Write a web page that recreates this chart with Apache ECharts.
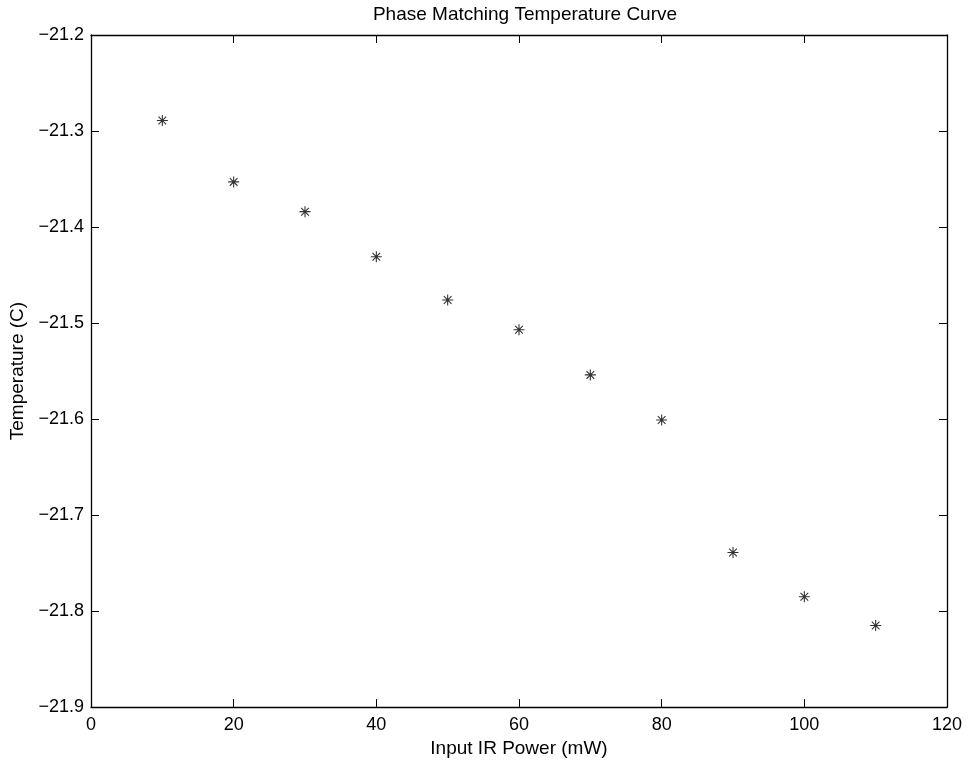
<!DOCTYPE html>
<html><head><meta charset="utf-8">
<script src="https://cdn.jsdelivr.net/npm/echarts@6/dist/echarts.min.js"></script>
<style>html,body{margin:0;padding:0;background:#fff}#c{width:968px;height:763px}</style>
</head><body><div id="c"></div>
<script>
const power = [10, 20, 30, 40, 50, 60, 70, 80, 90, 100, 110];
const temperature = [-21.289, -21.353, -21.384, -21.431, -21.476, -21.507, -21.554, -21.601, -21.739, -21.785, -21.815];
const titleText = 'Phase Matching Temperature Curve';
const xName = 'Input IR Power (mW)';
const yName = 'Temperature (C)';

const font = 'Liberation Sans, Arial, Helvetica, sans-serif';
const fs = 18;
const fsName = 19;
const star = 'path://M0 5L10 5M5 0L5 10M1.5 1.5L8.5 8.5M1.5 8.5L8.5 1.5';
const fmtY = v => (v < 0 ? '\u2212' : '') + Math.abs(v).toFixed(1);
const baseTick = {show: true, inside: true, length: 8, lineStyle: {color: '#000', width: 1}};
const line = {show: true, onZero: false, lineStyle: {color: '#000', width: 1.3}};

const chart = echarts.init(document.getElementById('c'), null, {renderer: 'canvas'});
chart.setOption({
  animation: false,
  backgroundColor: '#fff',
  title: {text: titleText, left: 520, top: 0, textAlign: 'center',
    textStyle: {fontFamily: font, fontSize: fsName, fontWeight: 'normal', color: '#000'}},
  grid: {left: 91, right: 21, top: 35, bottom: 54, containLabel: false},
  xAxis: [
    {type: 'value', min: 0, max: 120, interval: 20, position: 'bottom',
      name: xName, nameLocation: 'middle', nameGap: 29,
      nameTextStyle: {fontFamily: font, fontSize: fsName, color: '#000'},
      axisLine: line, axisTick: baseTick, splitLine: {show: false},
      axisLabel: {fontFamily: font, fontSize: fs, color: '#000', margin: 9}},
    {type: 'value', min: 0, max: 120, interval: 20, position: 'top',
      axisLine: line, axisTick: baseTick, splitLine: {show: false}, axisLabel: {show: false}}
  ],
  yAxis: [
    {type: 'value', min: -21.9, max: -21.2, interval: 0.1, position: 'left',
      name: yName, nameLocation: 'middle', nameGap: 60,
      nameTextStyle: {fontFamily: font, fontSize: fsName, color: '#000'},
      axisLine: line, axisTick: baseTick, splitLine: {show: false},
      axisLabel: {fontFamily: font, fontSize: fs, color: '#000', margin: 7, formatter: fmtY}},
    {type: 'value', min: -21.9, max: -21.2, interval: 0.1, position: 'right',
      axisLine: line, axisTick: baseTick, splitLine: {show: false}, axisLabel: {show: false}}
  ],
  series: [{
    type: 'scatter',
    data: power.map((p, i) => [p, temperature[i]]),
    symbol: star, symbolSize: 11,
    itemStyle: {color: 'rgba(0,0,0,0)', borderColor: '#000', borderWidth: 1.1}
  }]
});
</script></body></html>
